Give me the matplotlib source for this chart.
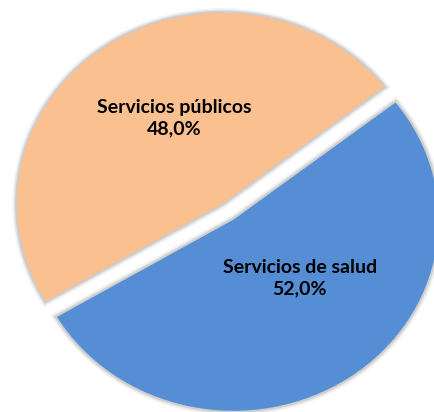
import matplotlib.pyplot as plt
import matplotlib.patheffects as pe

categories = ['Servicios públicos', 'Servicios de salud']
shares = [48.0, 52.0]
colors = ['#FAC090', '#558ED5']

# where each label sits, in axes data units
label_xy = [(-0.262, 0.49), (0.352, -0.347)]

fig = plt.figure(figsize=(4.34, 4.12), dpi=100)
ax = fig.add_axes([0, 0, 1, 1])

wedges, _ = ax.pie(shares, colors=colors, startangle=37.8, explode=[0.05, 0.05],
                   wedgeprops={'linewidth': 0})

# soft grey halo round each slice
halo = [pe.Stroke(linewidth=7, foreground='#000000', alpha=0.04),
        pe.Stroke(linewidth=5, foreground='#000000', alpha=0.06),
        pe.Stroke(linewidth=3, foreground='#000000', alpha=0.10),
        pe.Normal()]
for w in wedges:
    w.set_path_effects(halo)

for name, val, (x, y) in zip(categories, shares, label_xy):
    txt = f'{name}\n{val:.1f}%'.replace('.', ',')
    ax.text(x, y, txt, ha='center', va='center', fontsize=14, fontweight='bold',
            family='Lato', linespacing=1.3, color='black')

ax.set_aspect('auto')
ax.set_xlim(-1.111, 1.006)
ax.set_ylim(-1.048, 1.109)
ax.axis('off')

fig.savefig('out.png', dpi=100)
